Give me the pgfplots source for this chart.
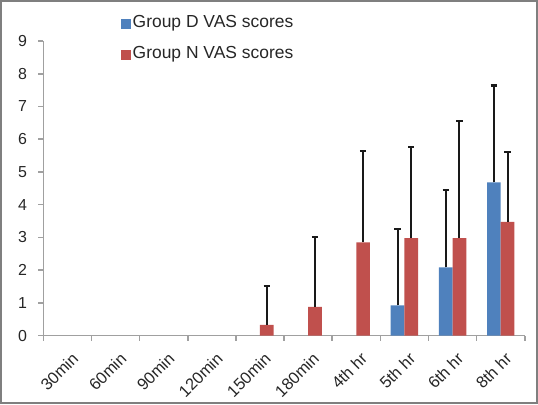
\documentclass[border=0pt]{standalone}
\usepackage{pgfplots}
\pgfplotsset{compat=1.18}
\usepackage{fontspec}
\setmainfont{Liberation Sans}
\definecolor{barblue}{HTML}{4F81BD}
\definecolor{barred}{HTML}{C0504D}
\definecolor{axgray}{HTML}{A0A0A0}
\definecolor{framegray}{HTML}{7F7F7F}
\definecolor{txt}{HTML}{262626}
\begin{document}
\begin{tikzpicture}[x=1bp,y=1bp]
\draw[framegray, line width=2bp] (1,1) rectangle (537,403);
\begin{axis}[
  at={(43.3bp,68.3bp)}, anchor=south west,
  scale only axis, width=481.5bp, height=294.7bp,
  xmin=-0.5, xmax=9.5, ymin=0, ymax=9,
  ybar=0pt, bar width=13.7bp,
  axis x line*=bottom, axis y line*=left,
  axis line style={axgray, line width=1.5bp, -},
  tick align=outside,
  major tick length=5bp,
  tick style={axgray, line width=1.5bp},
  xtick={-0.5,0.5,1.5,2.5,3.5,4.5,5.5,6.5,7.5,8.5,9.5},
  x tick label as interval,
  xticklabels={30min,60min,90min,120min,150min,180min,4th hr,5th hr,6th hr,8th hr},
  ytick={0,1,...,9},
  /pgf/number format/assume math mode=true,
  ticklabel style={font=\fontsize{16}{16}\selectfont, text=txt},
  xticklabel style={font=\fontsize{16.5}{16.5}\selectfont, rotate=45, anchor=north east, inner sep=0pt, yshift=-10bp, xshift=-5bp},
  yticklabel style={inner sep=0pt, xshift=-11bp},
  legend style={at={(axis description cs:0.1614,1.088)}, anchor=north west,
    draw=none, fill=none, inner sep=0pt, row sep=17bp, column sep=2bp,
    font=\fontsize{17.5}{17.5}\selectfont, text=txt,
    nodes={inner sep=0pt, anchor=base west}},
  legend cell align=left,
  legend image code/.code={\fill[#1] (0bp,-1.5bp) rectangle (9.5bp,8bp);},
  clip=false,
  error bars/y dir=plus, error bars/y explicit,
  error bars/error bar style={black!90, line width=2bp},
  error bars/error mark options={black!90, line width=2.2bp, mark size=3.2bp, rotate=90},
]
\addplot[fill=barblue, draw=none]
  coordinates {(7,0.93) +- (0,2.34) (8,2.09) +- (0,2.36) (9,4.68) +- (0,2.96)};
\addlegendentry{Group D VAS scores}
\addplot[fill=barred, draw=none]
  coordinates {(4,0.33) +- (0,1.19) (5,0.88) +- (0,2.14) (6,2.85) +- (0,2.78)
               (7,2.98) +- (0,2.78) (8,2.98) +- (0,3.57) (9,3.48) +- (0,2.13)};
\addlegendentry{Group N VAS scores}
\end{axis}
\end{tikzpicture}
\end{document}
